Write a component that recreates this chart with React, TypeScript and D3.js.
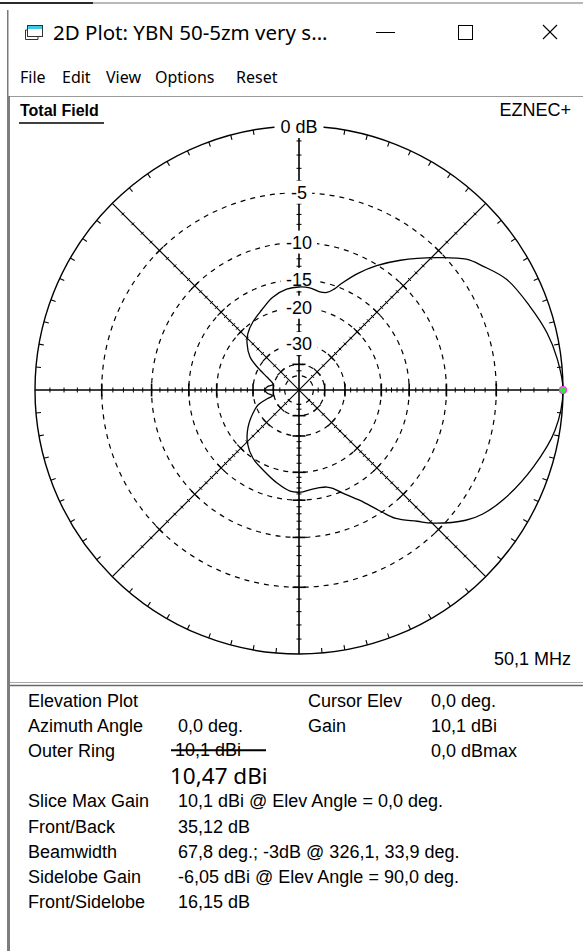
import React from 'react';
import * as d3 from 'd3';

const W = 583;
const H = 951;

// ---- Pattern data (elevation angle CCW from right horizon, gain in dB rel. max) ----
const elevAngles = [0, 7, 13, 20, 28, 34, 38, 44, 52, 58, 63, 68, 71, 74, 78, 84, 90, 97, 106, 115, 124, 132, 138, 146, 151, 158, 163, 168, 174, 180, 186, 192, 196, 200, 204, 216, 226, 236, 246, 257, 265, 271, 276, 282, 286, 289, 293, 300, 304, 307, 312, 315, 322, 326, 332, 342, 351];
const gainDb = [0, -0.26, -0.63, -1.25, -1.97, -3.0, -3.73, -5.6, -8.1, -10.1, -12.0, -14.2, -15.6, -16.4, -16.6, -16.2, -16.15, -16.4, -17.3, -18.8, -20.0, -21.3, -22.8, -25.7, -29.3, -34.9, -38.0, -39.5, -36.3, -35.1, -36.3, -39.0, -35.0, -31.0, -29.1, -24.6, -21.8, -20.0, -18.9, -17.4, -16.4, -16.3, -16.6, -16.7, -16.5, -16.0, -14.7, -12.2, -10.1, -8.5, -6.9, -5.8, -3.8, -3.0, -2.2, -1.15, -0.32];

// ---- Grid ----
const ringDb = [-5, -10, -15, -20, -30, -40, -50];
const ringLabels = ['-5', '-10', '-15', '-20', '-30'];
const ringLabelDb = [-5, -10, -15, -20, -30];
const minorTickDb = [-1, -2, -3, -4, -6, -7, -8, -9, -11, -12, -13, -14, -16, -17, -18, -19, -22, -24, -26, -28, -35, -45];
const longTickDb = [-5, -10, -15, -20, -30, -40];
const outerTickStep = 5;

// ---- Texts ----
const titleText = '2D Plot: YBN 50-5zm very s...';
const menuItems = ['File', 'Edit', 'View', 'Options', 'Reset'];
const menuX = [20, 62, 106, 155, 236];
const panelLabels = ['Elevation Plot', 'Azimuth Angle', 'Outer Ring', '', 'Slice Max Gain', 'Front/Back', 'Beamwidth', 'Sidelobe Gain', 'Front/Sidelobe'];
const panelValues = ['', '0,0 deg.', '', '', '10,1 dBi @ Elev Angle = 0,0 deg.', '35,12 dB', '67,8 deg.; -3dB @ 326,1, 33,9 deg.', '-6,05 dBi @ Elev Angle = 90,0 deg.', '16,15 dB'];
const cursorLabels = ['Cursor Elev', 'Gain', ''];
const cursorValues = ['0,0 deg.', '10,1 dBi', '0,0 dBmax'];
const struckRing = '10,1 dBi';
const newRing = '10,47 dBi';
const freqText = '50,1 MHz';

const CX = 299;
const CY = 390;
const R = 264;

const ARIAL = '"Liberation Sans", Arial, sans-serif';
const UI = '"Noto Sans", "Open Sans", sans-serif';

let ctx: CanvasRenderingContext2D | null = null;
function measure(t: string, font: string): number {
  if (!ctx) ctx = document.createElement('canvas').getContext('2d');
  if (!ctx) return t.length * 9;
  ctx.font = font;
  return ctx.measureText(t).width;
}

export default function App() {
  // ARRL log scale: radius shrinks by 0.89 every 2 dB
  const logScale = d3.scaleLog().domain([R * Math.pow(0.89, 25), R]).range([-50, 0]);
  const r = (db: number) => logScale.invert(db);

  const rad = (deg: number) => (deg * Math.PI) / 180;
  const px = (deg: number, rr: number) => CX + rr * Math.cos(rad(deg));
  const py = (deg: number, rr: number) => CY - rr * Math.sin(rad(deg));

  const pts = elevAngles.map((a, i) => ({ a, db: gainDb[i] }));
  const line = d3
    .lineRadial<{ a: number; db: number }>()
    .angle((d) => rad(90 - d.a))
    .radius((d) => r(d.db))
    .curve(d3.curveCatmullRomClosed.alpha(0.5));
  const patternPath = line(pts) || '';

  const axisAngles = [0, 90, 180, 270];
  const diagAngles = [45, 135, 225, 315];

  const ticks: JSX.Element[] = [];
  let k = 0;
  const tick = (deg: number, rr: number, half: number, w = 1.2) => {
    const x = px(deg, rr);
    const y = py(deg, rr);
    const pa = rad(deg + 90);
    const dx = half * Math.cos(pa);
    const dy = -half * Math.sin(pa);
    ticks.push(<line key={'t' + k++} x1={x - dx} y1={y - dy} x2={x + dx} y2={y + dy} stroke="#000" strokeWidth={w} />);
  };
  axisAngles.forEach((a) => {
    minorTickDb.forEach((db) => tick(a, r(db), 2.5, 1));
    longTickDb.forEach((db) => tick(a, r(db), 6.5, 1.6));
  });
  diagAngles.forEach((a) => {
    minorTickDb.forEach((db) => tick(a, r(db), 2, 1));
    longTickDb.forEach((db) => tick(a, r(db), 5, 1.2));
  });
  const outerTicks = d3.range(0, 360, outerTickStep).filter((a) => a % 45 !== 0);

  const labelFont = `18px ${ARIAL}`;
  const zeroW = measure('0 dB', labelFont);

  const panelBase = 707;
  const pitch = 25.1;

  return (
    <div style={{ position: 'absolute', left: 0, top: 0, width: W, height: H }}>
      <svg width={W} height={H} style={{ display: 'block', background: '#fff' }}>
        {/* top edge */}
        <rect x={0} y={2} width={93} height={2} fill="#2a2a2a" />
        <rect x={93} y={2} width={W - 93} height={2} fill="#b8b8b8" />
        {/* window left border */}
        <rect x={7} y={10} width={1.5} height={86} fill="#7a7a7a" />
        {/* title bar */}
        <g>
          <rect x={27.5} y={25.5} width={15} height={11} fill="#fff" stroke="#333" strokeWidth={1} />
          <rect x={28} y={26} width={14} height={3} fill="#3cc8e6" />
          <polyline points="27.5,30 25.5,30 25.5,39.5 38,39.5 38,37" fill="none" stroke="#333" strokeWidth={1} />
          <text x={53} y={39.5} fontFamily={UI} fontSize={20.5} fill="#000">{titleText}</text>
          <line x1={376} y1={32.5} x2={395} y2={32.5} stroke="#000" strokeWidth={1} />
          <rect x={458.5} y={25.5} width={14} height={14} fill="none" stroke="#000" strokeWidth={1} />
          <line x1={543} y1={25} x2={557} y2={39} stroke="#000" strokeWidth={1.1} />
          <line x1={557} y1={25} x2={543} y2={39} stroke="#000" strokeWidth={1.1} />
        </g>
        {/* menu */}
        {menuItems.map((m, i) => (
          <text key={m} x={menuX[i]} y={83} fontFamily={UI} fontSize={16} fill="#000">{m}</text>
        ))}
        {/* plot frame */}
        <line x1={8} y1={96.5} x2={W} y2={96.5} stroke="#9a9a9a" strokeWidth={1} />
        <rect x={7} y={96} width={3} height={H - 96} fill="#7d7d7d" />
        <line x1={10} y1={682.5} x2={W} y2={682.5} stroke="#a8a8a8" strokeWidth={1} />
        <line x1={10} y1={685.5} x2={W} y2={685.5} stroke="#6a6a6a" strokeWidth={1.5} />

        <text x={20} y={116} fontFamily={ARIAL} fontSize={16} fontWeight="bold" fill="#000">Total Field</text>
        <line x1={19} y1={123} x2={104} y2={123} stroke="#000" strokeWidth={1.5} />
        <text x={571} y={116} textAnchor="end" fontFamily={ARIAL} fontSize={18} fill="#000">EZNEC+</text>
        <text x={571} y={665} textAnchor="end" fontFamily={ARIAL} fontSize={18} fill="#000">{freqText}</text>

        {/* polar grid */}
        <g>
          {ringDb.map((db) => (
            <circle key={db} cx={CX} cy={CY} r={r(db)} fill="none" stroke="#000" strokeWidth={1.2} strokeDasharray="5 5" />
          ))}
          {[0, 45, 90, 135].map((a) => (
            <line key={'ax' + a} x1={px(a, R)} y1={py(a, R)} x2={px(a + 180, R)} y2={py(a + 180, R)} stroke="#000" strokeWidth={a % 90 === 0 ? 1.6 : 1.2} />
          ))}
          {ticks}
          <circle cx={CX} cy={CY} r={R} fill="none" stroke="#000" strokeWidth={1.4} />
          {outerTicks.map((a) => (
            <line key={'o' + a} x1={px(a, R)} y1={py(a, R)} x2={px(a, R - 5)} y2={py(a, R - 5)} stroke="#000" strokeWidth={1.1} />
          ))}
        </g>

        {/* labels with opaque background */}
        <rect x={CX - zeroW / 2 - 6} y={CY - R - 10} width={zeroW + 12} height={22} fill="#fff" />
        <text x={CX} y={CY - R + 6.5} textAnchor="middle" fontFamily={ARIAL} fontSize={18} fill="#000">0 dB</text>
        {ringLabels.map((t, i) => {
          const w = measure(t, labelFont);
          const yy = CY - r(ringLabelDb[i]);
          return (
            <g key={t}>
              <rect x={CX - w / 2 - 5} y={yy - 12} width={w + 10} height={23} fill="#fff" />
              <text x={CX} y={yy + 6} textAnchor="middle" fontFamily={ARIAL} fontSize={18} fill="#000">{t}</text>
            </g>
          );
        })}

        {/* pattern */}
        <path d={patternPath} transform={`translate(${CX},${CY})`} fill="none" stroke="#000" strokeWidth={1.3} />

        {/* cursor marker */}
        <circle cx={px(0, r(gainDb[0]))} cy={py(0, r(gainDb[0]))} r={3.5} fill="#39e639" stroke="#ff33ff" strokeWidth={1.2} />

        {/* data panel */}
        {panelLabels.map((t, i) => (t ? (
          <text key={'pl' + i} x={28} y={panelBase + i * pitch} fontFamily={ARIAL} fontSize={18} fill="#000">{t}</text>
        ) : null))}
        {panelValues.map((t, i) => (t ? (
          <text key={'pv' + i} x={178} y={panelBase + i * pitch} fontFamily={ARIAL} fontSize={18} fill="#000">{t}</text>
        ) : null))}
        {cursorLabels.map((t, i) => (t ? (
          <text key={'cl' + i} x={308} y={panelBase + i * pitch} fontFamily={ARIAL} fontSize={18} fill="#000">{t}</text>
        ) : null))}
        {cursorValues.map((t, i) => (
          <text key={'cv' + i} x={431} y={panelBase + i * pitch} fontFamily={ARIAL} fontSize={18} fill="#000">{t}</text>
        ))}
        <text x={175} y={panelBase + 2 * pitch - 1} fontFamily={ARIAL} fontSize={18} fill="#000">{struckRing}</text>
        <line x1={171} y1={panelBase + 2 * pitch - 7} x2={266} y2={panelBase + 2 * pitch - 7} stroke="#000" strokeWidth={2} />
        <text x={170} y={panelBase + 3 * pitch + 2} fontFamily={UI} fontSize={22.5} fill="#000">{newRing}</text>
      </svg>
    </div>
  );
}
